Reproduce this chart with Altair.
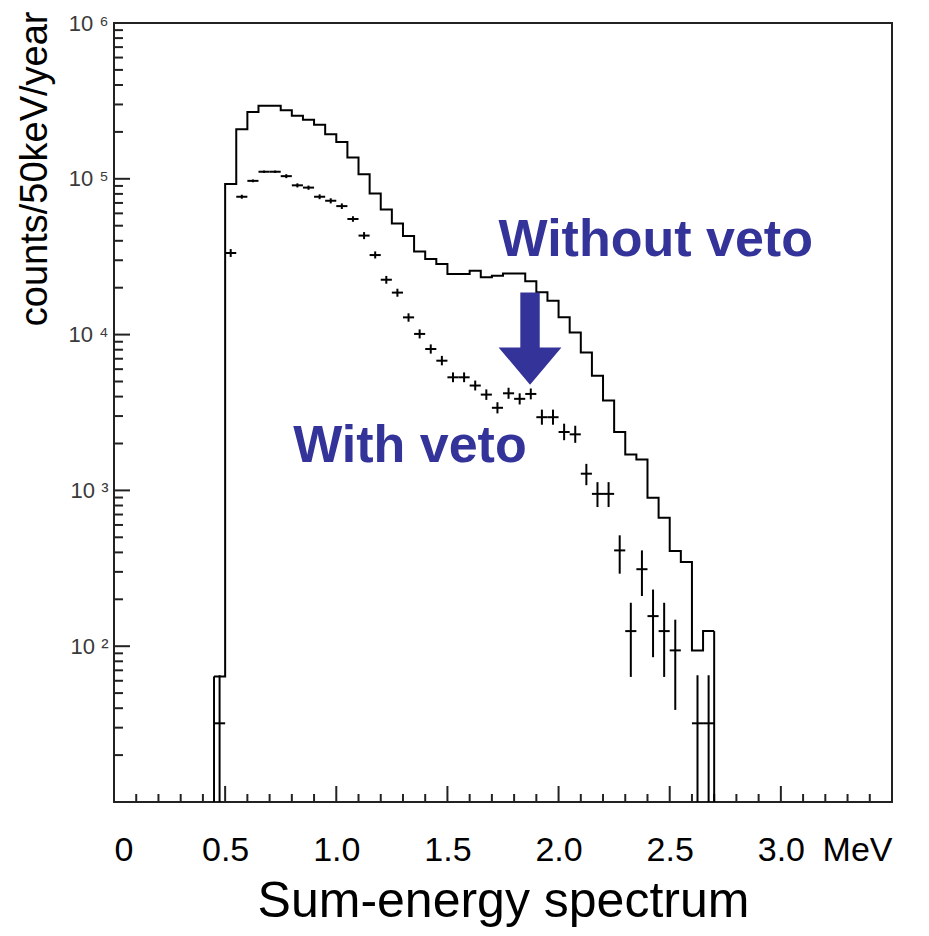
import altair as alt
import pandas as pd

# ---------------- data ----------------
BIN = 0.05  # MeV (50 keV bins)

# "Without veto" histogram: low bin edges (MeV) and counts/50keV/year
nv_low = [0.45, 0.50, 0.55, 0.60, 0.65, 0.70, 0.75, 0.80, 0.85, 0.90,
          0.95, 1.00, 1.05, 1.10, 1.15, 1.20, 1.25, 1.30, 1.35, 1.40,
          1.45, 1.50, 1.55, 1.60, 1.65, 1.70, 1.75, 1.80, 1.85, 1.90,
          1.95, 2.00, 2.05, 2.10, 2.15, 2.20, 2.25, 2.30, 2.35, 2.40,
          2.45, 2.50, 2.55, 2.60, 2.65]
nv_counts = [64, 92500, 208000, 268000, 294000, 294000, 275000, 254000, 239000, 222000,
             193000, 172000, 137000, 107000, 80500, 63600, 51700, 42900, 34100, 30600,
             28400, 24500, 24500, 25700, 23300, 23900, 24700, 24700, 22000, 18700,
             16500, 12900, 10300, 7680, 5450, 3780, 2370, 1700, 1580, 898,
             667, 408, 347, 94, 125]

# "With veto" points: bin centres, counts and error-bar limits
wv_center = [0.475, 0.525, 0.575, 0.625, 0.675, 0.725, 0.775, 0.825, 0.875, 0.925,
             0.975, 1.025, 1.075, 1.125, 1.175, 1.225, 1.275, 1.325, 1.375, 1.425,
             1.475, 1.525, 1.575, 1.625, 1.675, 1.725, 1.775, 1.825, 1.875, 1.925,
             1.975, 2.025, 2.075, 2.125, 2.175, 2.225, 2.275, 2.325, 2.375, 2.425,
             2.475, 2.525, 2.625, 2.675]
wv_counts = [32, 33400, 76700, 97000, 111000, 111000, 104000, 90800, 87800, 76700,
             72300, 66800, 55200, 43200, 32400, 22500, 18600, 12900, 10100, 8080,
             6800, 5320, 5320, 4710, 4120, 3390, 4200, 3870, 4160, 2950,
             2950, 2370, 2290, 1280, 950, 950, 412, 125, 312, 156,
             125, 94, 32, 32]
wv_err_lo = [1, 31500, 74500, 95000, 109000, 109000, 101000, 88000, 85000, 74000,
             69500, 64000, 53000, 41000, 30800, 21200, 17500, 12100, 9450, 7550,
             6350, 4950, 4950, 4380, 3810, 3120, 3870, 3560, 3840, 2640,
             2640, 2100, 2020, 1080, 782, 782, 292, 63.5, 210, 85,
             63.5, 39, 1, 1]
wv_err_hi = [65, 35400, 79000, 99000, 113000, 113000, 107000, 93500, 90500, 79500,
             75000, 69500, 57500, 45500, 34200, 23800, 19700, 13700, 10800, 8650,
             7300, 5720, 5720, 5070, 4450, 3680, 4560, 4200, 4510, 3300,
             3300, 2680, 2600, 1480, 1130, 1130, 515, 190, 412, 231,
             190, 148, 65, 65]

# axis ticks
x_major = [0.5, 1.0, 1.5, 2.0, 2.5, 3.0]
x_labels = [0, 0.5, 1.0, 1.5, 2.0, 2.5, 3.0, 3.5]
x_minor = [0.1, 0.2, 0.3, 0.4, 0.6, 0.7, 0.8, 0.9, 1.1, 1.2, 1.3, 1.4,
           1.6, 1.7, 1.8, 1.9, 2.1, 2.2, 2.3, 2.4, 2.6, 2.7, 2.8, 2.9,
           3.1, 3.2, 3.3, 3.4]
y_major = [1e2, 1e3, 1e4, 1e5]
y_labels = [1e2, 1e3, 1e4, 1e5, 1e6]
y_minor = [m * 10 ** n for n in range(1, 6) for m in range(2, 10)]

# annotations
ann_text = ["Without veto", "With veto"]
ann_x = [1.73, 0.806]
ann_y = [32000, 1520]
arrow_x = [1.8716]
arrow_y = [9420]

# ---------------- chart ----------------
W, H = 778, 779
BLUE = "#333399"

step_df = pd.DataFrame({"E": nv_low + [nv_low[-1] + BIN],
                        "counts": nv_counts + [nv_counts[-1]]})
edge_df = pd.DataFrame({"E": [nv_low[0], nv_low[-1] + BIN],
                        "counts": [nv_counts[0], nv_counts[-1]]})
wv_df = pd.DataFrame({"E": wv_center,
                      "lo": [c - BIN / 2 for c in wv_center],
                      "hi": [c + BIN / 2 for c in wv_center],
                      "counts": wv_counts, "elo": wv_err_lo, "ehi": wv_err_hi})
ann_df = pd.DataFrame({"E": ann_x, "counts": ann_y, "t": ann_text})
arrow_df = pd.DataFrame({"E": arrow_x, "counts": arrow_y})

xscale = alt.Scale(domain=[0, 3.5], nice=False, zero=False)
yscale = alt.Scale(type="log", domain=[10, 1e6], nice=False)

xaxis = alt.Axis(
    values=x_labels,
    labelExpr="datum.value == 3.5 ? 'MeV' : datum.value == 0 ? '0' : format(datum.value, '.1f')",
    labelFlush=True, labelOverlap=False, ticks=False, domain=False, grid=False,
    labelFont="Liberation Sans, Arial", labelFontSize=34,
    labelColor="#000", labelPadding=31,
    title="Sum-energy spectrum", titleFont="Liberation Sans, Arial",
    titleFontSize=50, titleFontWeight="normal", titleColor="#000", titlePadding=9,
)
yaxis = alt.Axis(
    values=y_labels,
    labelExpr="'10 ' + substring('⁰¹²³⁴⁵⁶⁷⁸⁹', round(log(datum.value)/LN10), round(log(datum.value)/LN10) + 1)",
    labelOverlap=False, ticks=False, domain=False, grid=False,
    labelFont="Liberation Sans, Arial", labelFontSize=22, labelColor="#3a3a3a",
    labelPadding=6,
    title="counts/50keV/year", titleFont="Liberation Sans, Arial",
    titleFontSize=38, titleFontWeight="normal", titleColor="#000",
    titleAnchor="end", titleY=-12, titleX=-60, titleBaseline="bottom",
)

X = lambda f: alt.X(f, type="quantitative", scale=xscale, axis=xaxis)
Y = lambda f: alt.Y(f, type="quantitative", scale=yscale, axis=yaxis)

hist = alt.Chart(step_df).mark_line(interpolate="step-after", color="#000", strokeWidth=2).encode(
    x=X("E"), y=Y("counts"))
edges = alt.Chart(edge_df).mark_rule(color="#000", strokeWidth=2).encode(
    x=X("E"), y=Y("counts"), y2=alt.value(H))

hbar = alt.Chart(wv_df).mark_rule(color="#000", strokeWidth=2).encode(
    x=X("lo"), x2="hi", y=Y("counts"))
vbar = alt.Chart(wv_df).mark_rule(color="#000", strokeWidth=2, clip=True).encode(
    x=X("E"), y=Y("elo"), y2="ehi")

# ticks drawn inward
ym = alt.Chart(pd.DataFrame({"v": y_major})).mark_rule(color="#222", strokeWidth=2).encode(
    y=Y("v"), x=alt.value(0), x2=alt.value(16))
yn = alt.Chart(pd.DataFrame({"v": y_minor})).mark_rule(color="#222", strokeWidth=2).encode(
    y=Y("v"), x=alt.value(0), x2=alt.value(9))
xm = alt.Chart(pd.DataFrame({"v": x_major})).mark_rule(color="#222", strokeWidth=2).encode(
    x=X("v"), y=alt.value(H), y2=alt.value(H - 16))
xn = alt.Chart(pd.DataFrame({"v": x_minor})).mark_rule(color="#222", strokeWidth=2).encode(
    x=X("v"), y=alt.value(H), y2=alt.value(H - 8))

texts = alt.Chart(ann_df).mark_text(
    align="left", baseline="alphabetic", font="Liberation Sans, Arial",
    fontWeight="bold", fontSize=52, color=BLUE).encode(
    x=X("E"), y=Y("counts"), text="t:N")

ARROW = "M-0.21,-1L0.21,-1L0.21,0.19L0.68,0.19L0,1L-0.68,0.19L-0.21,0.19Z"
arrow = alt.Chart(arrow_df).mark_point(
    shape=ARROW, size=8540, filled=True, color=BLUE, opacity=1, strokeWidth=0).encode(
    x=X("E"), y=Y("counts"))

chart = alt.layer(ym, yn, xm, xn, hist, edges, hbar, vbar, arrow, texts).properties(
    width=W, height=H,
    autosize=alt.AutoSizeParams(type="none"),
    padding={"left": 106, "top": 15, "right": 29, "bottom": 126},
    background="white",
).configure_view(stroke="#222", strokeWidth=2)

chart.save("out.html", embed_options={"renderer": "svg", "actions": False})
